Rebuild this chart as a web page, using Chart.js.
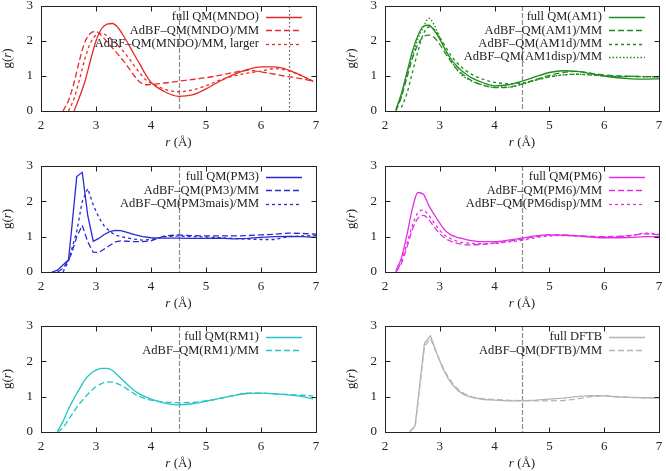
<!DOCTYPE html>
<html>
<head>
<meta charset="utf-8">
<script src="https://cdn.jsdelivr.net/npm/chart.js@4.4.0/dist/chart.umd.min.js"></script>
<style>
  html, body { margin: 0; padding: 0; background: #fff; }
  #page { position: relative; width: 666px; height: 471px; }
  .panel { position: absolute; }
</style>
</head>
<body>
<div id="page">
  <canvas id="cMNDO" class="panel" style="left:0;top:0" width="333" height="155"></canvas>
  <canvas id="cAM1" class="panel" style="left:333px;top:0" width="333" height="155"></canvas>
  <canvas id="cPM3" class="panel" style="left:0;top:155px" width="333" height="155"></canvas>
  <canvas id="cPM6" class="panel" style="left:333px;top:155px" width="333" height="155"></canvas>
  <canvas id="cRM1" class="panel" style="left:0;top:310px" width="333" height="161"></canvas>
  <canvas id="cDFTB" class="panel" style="left:333px;top:310px" width="333" height="161"></canvas>
</div>
<script>
// tick labels shared by all panels
const xTicks = [2, 3, 4, 5, 6, 7];
const yTicks = [0, 1, 2, 3];

// MNDO
const rMNDO = [2.4, 2.5, 2.6, 2.7, 2.8, 2.9, 3.0, 3.1, 3.2, 3.3, 3.4, 3.5, 3.6, 3.7, 3.8, 3.9, 4.0, 4.25, 4.5, 4.75, 5.0, 5.25, 5.5, 5.75, 6.0, 6.25, 6.5, 6.75, 6.95];
const gMNDOfull = [null, null, 0.0, 0.4, 0.85, 1.45, 2.0, 2.35, 2.48, 2.5, 2.38, 2.15, 1.88, 1.6, 1.33, 1.05, 0.82, 0.55, 0.42, 0.46, 0.63, 0.85, 1.04, 1.18, 1.26, 1.26, 1.17, 1.0, 0.84];
const gMNDOadbf = [0.0, 0.3, 0.8, 1.45, 1.98, 2.22, 2.27, 2.15, 1.98, 1.8, 1.62, 1.43, 1.22, 1.0, 0.82, 0.75, 0.76, 0.8, 0.85, 0.9, 0.95, 1.02, 1.1, 1.16, 1.12, 1.05, 0.98, 0.92, 0.85];
const gMNDOlarge = [null, 0.0, 0.35, 0.9, 1.5, 1.95, 2.17, 2.22, 2.15, 2.02, 1.87, 1.7, 1.5, 1.28, 1.08, 0.9, 0.8, 0.62, 0.55, 0.6, 0.72, 0.88, 1.0, 1.08, 1.14, 1.21, 1.15, 1.0, 0.85];
const labelsMNDO = ['full QM(MNDO)', 'AdBF\u2013QM(MNDO)/MM', 'AdBF\u2013QM(MNDO)/MM, larger'];

// AM1
const rAM1 = [2.1, 2.2, 2.3, 2.4, 2.5, 2.6, 2.7, 2.8, 2.9, 3.0, 3.1, 3.2, 3.3, 3.4, 3.5, 3.6, 3.8, 4.0, 4.25, 4.5, 4.75, 5.0, 5.25, 5.5, 5.75, 6.0, 6.25, 6.5, 6.75, 7.0];
const gAM1full = [null, 0.05, 0.5, 1.1, 1.7, 2.15, 2.42, 2.45, 2.3, 2.05, 1.75, 1.5, 1.3, 1.15, 1.03, 0.93, 0.8, 0.72, 0.75, 0.85, 0.98, 1.1, 1.15, 1.13, 1.07, 1.0, 0.95, 0.92, 0.91, 0.92];
const gAM1adbf = [null, 0.0, 0.4, 0.95, 1.5, 1.9, 2.12, 2.17, 2.1, 1.9, 1.65, 1.42, 1.22, 1.07, 0.95, 0.85, 0.73, 0.67, 0.68, 0.77, 0.9, 1.02, 1.1, 1.13, 1.08, 1.03, 1.0, 0.99, 0.98, 0.98];
const gAM1d = [null, null, 0.1, 0.5, 1.1, 1.7, 2.2, 2.4, 2.33, 2.1, 1.85, 1.6, 1.4, 1.25, 1.13, 1.03, 0.9, 0.82, 0.78, 0.8, 0.88, 0.97, 1.03, 1.05, 1.03, 1.0, 0.99, 0.99, 0.98, 0.98];
const gAM1disp = [null, 0.02, 0.45, 1.05, 1.6, 2.05, 2.4, 2.65, 2.45, 2.1, 1.75, 1.45, 1.2, 1.03, 0.92, 0.84, 0.74, 0.68, 0.68, 0.76, 0.88, 0.98, 1.03, 1.05, 1.03, 1.0, 0.99, 0.99, 0.98, 0.97];
const labelsAM1 = ['full QM(AM1)', 'AdBF\u2013QM(AM1)/MM', 'AdBF\u2013QM(AM1d)/MM', 'AdBF\u2013QM(AM1disp)/MM'];

// PM3
const rPM3 = [2.2, 2.3, 2.4, 2.5, 2.55, 2.65, 2.75, 2.85, 2.95, 3.05, 3.15, 3.25, 3.35, 3.45, 3.55, 3.7, 3.85, 4.0, 4.25, 4.5, 4.75, 5.0, 5.25, 5.5, 5.75, 6.0, 6.25, 6.5, 6.75, 7.0];
const gPM3full = [0.0, 0.05, 0.2, 0.35, 1.1, 2.7, 2.82, 1.6, 0.87, 0.95, 1.06, 1.14, 1.18, 1.17, 1.13, 1.06, 1.0, 0.97, 0.96, 0.96, 0.95, 0.95, 0.96, 0.94, 0.95, 0.98, 1.0, 1.01, 1.0, 0.98];
const gPM3adbf = [null, 0.0, 0.1, 0.35, 0.5, 1.0, 1.32, 0.85, 0.56, 0.55, 0.65, 0.75, 0.85, 0.88, 0.87, 0.86, 0.86, 0.88, 1.02, 1.05, 1.03, 1.02, 1.02, 1.02, 1.03, 1.05, 1.07, 1.1, 1.09, 1.07];
const gPM3mais = [null, null, 0.0, 0.3, 0.6, 1.15, 2.0, 2.36, 1.9, 1.55, 1.3, 1.15, 1.05, 1.0, 0.97, 0.93, 0.9, 0.92, 1.0, 1.02, 1.0, 0.99, 0.97, 0.95, 0.93, 0.92, 0.92, 1.0, 1.02, 1.03];
const labelsPM3 = ['full QM(PM3)', 'AdBF\u2013QM(PM3)/MM', 'AdBF\u2013QM(PM3mais)/MM'];

// PM6
const rPM6 = [2.2, 2.3, 2.4, 2.5, 2.6, 2.7, 2.8, 2.9, 3.0, 3.1, 3.2, 3.3, 3.4, 3.5, 3.75, 4.0, 4.25, 4.5, 4.75, 5.0, 5.25, 5.5, 5.75, 6.0, 6.25, 6.5, 6.75, 7.0];
const gPM6full = [0.05, 0.4, 1.05, 1.8, 2.25, 2.2, 1.88, 1.62, 1.38, 1.17, 1.05, 0.99, 0.95, 0.91, 0.86, 0.86, 0.9, 0.96, 1.02, 1.05, 1.04, 1.02, 0.99, 0.97, 0.97, 0.98, 1.0, 1.0];
const gPM6adbf = [0.0, 0.25, 0.7, 1.2, 1.52, 1.6, 1.48, 1.27, 1.08, 0.95, 0.87, 0.82, 0.79, 0.77, 0.78, 0.82, 0.87, 0.93, 1.0, 1.05, 1.05, 1.03, 1.01, 1.0, 1.01, 1.04, 1.08, 1.05];
const gPM6disp = [0.0, 0.3, 0.8, 1.32, 1.68, 1.75, 1.6, 1.38, 1.18, 1.03, 0.94, 0.88, 0.84, 0.82, 0.8, 0.81, 0.85, 0.9, 0.97, 1.02, 1.03, 1.02, 1.0, 0.99, 1.0, 1.03, 1.1, 1.07];
const labelsPM6 = ['full QM(PM6)', 'AdBF\u2013QM(PM6)/MM', 'AdBF\u2013QM(PM6disp)/MM'];

// RM1
const rRM1 = [2.3, 2.4, 2.5, 2.6, 2.7, 2.8, 2.9, 3.0, 3.1, 3.2, 3.3, 3.4, 3.5, 3.6, 3.7, 3.8, 4.0, 4.25, 4.5, 4.75, 5.0, 5.25, 5.5, 5.75, 6.0, 6.25, 6.5, 6.75, 6.95];
const gRM1full = [0.02, 0.3, 0.65, 0.95, 1.22, 1.48, 1.65, 1.75, 1.8, 1.8, 1.74, 1.6, 1.45, 1.3, 1.17, 1.07, 0.93, 0.82, 0.77, 0.8, 0.87, 0.95, 1.03, 1.09, 1.1, 1.08, 1.05, 1.0, 0.94];
const gRM1adbf = [0.0, 0.12, 0.35, 0.58, 0.8, 0.98, 1.15, 1.28, 1.37, 1.42, 1.41, 1.36, 1.28, 1.18, 1.08, 1.0, 0.9, 0.85, 0.83, 0.84, 0.88, 0.95, 1.03, 1.1, 1.1, 1.08, 1.06, 1.04, 1.02];
const labelsRM1 = ['full QM(RM1)', 'AdBF\u2013QM(RM1)/MM'];

// DFTB
const rDFTB = [2.45, 2.55, 2.72, 2.83, 2.95, 3.05, 3.15, 3.25, 3.35, 3.45, 3.6, 3.8, 4.0, 4.25, 4.5, 4.75, 5.0, 5.25, 5.5, 5.75, 6.0, 6.25, 6.5, 6.75, 7.0];
const gDFTBfull = [0.0, 0.18, 2.52, 2.72, 2.2, 1.82, 1.52, 1.3, 1.15, 1.05, 0.97, 0.92, 0.9, 0.88, 0.88, 0.9, 0.93, 0.96, 1.0, 1.03, 1.02, 0.99, 0.98, 0.97, 0.97];
const gDFTBadbf = [0.0, 0.15, 2.42, 2.65, 2.2, 1.85, 1.56, 1.34, 1.18, 1.08, 0.99, 0.94, 0.92, 0.9, 0.89, 0.88, 0.88, 0.89, 0.93, 1.0, 1.03, 1.0, 0.98, 0.97, 0.97];
const labelsDFTB = ['full DFTB', 'AdBF\u2013QM(DFTB)/MM'];

const dashes = [[], [6, 3], [3, 3], [1.5, 2]];
const serif = '"Liberation Serif", "DejaVu Serif", serif';

function toPoints(r, g) {
    return r.map((x, i) => ({ x: x, y: g[i] }));
}

// boxes, inward ticks, axis titles, reference lines and legend (gnuplot look)
const decor = {
    id: 'decor',
    beforeDatasetsDraw(chart, args, opts) {
        const { ctx, chartArea: a, scales: { x } } = chart;
        ctx.save();
        ctx.lineWidth = 1.2;
        opts.cutoffs.forEach(v => {
            const px = Math.round(x.getPixelForValue(v)) + 0.5;
            ctx.strokeStyle = '#8c8c8c';
            ctx.setLineDash([5, 2]);
            ctx.beginPath(); ctx.moveTo(px, a.top); ctx.lineTo(px, a.bottom); ctx.stroke();
        });
        opts.dotted.forEach(v => {
            const px = Math.round(x.getPixelForValue(v)) + 0.5;
            ctx.strokeStyle = '#555';
            ctx.setLineDash([1.5, 2.5]);
            ctx.beginPath(); ctx.moveTo(px, a.top); ctx.lineTo(px, a.bottom); ctx.stroke();
        });
        ctx.restore();
    },
    afterDraw(chart, args, opts) {
        const { ctx, chartArea: a, scales: { x, y } } = chart;
        ctx.save();
        ctx.strokeStyle = '#222';
        ctx.lineWidth = 1;
        ctx.setLineDash([]);
        const L = Math.round(a.left) + 0.5, R = Math.round(a.right) + 0.5;
        const T = Math.round(a.top) + 0.5, B = Math.round(a.bottom) + 0.5;
        ctx.strokeRect(L, T, R - L, B - T);
        ctx.beginPath();
        x.ticks.forEach(t => {
            const px = Math.round(x.getPixelForValue(t.value)) + 0.5;
            ctx.moveTo(px, B); ctx.lineTo(px, B - 5);
            ctx.moveTo(px, T); ctx.lineTo(px, T + 5);
        });
        y.ticks.forEach(t => {
            const py = Math.round(y.getPixelForValue(t.value)) + 0.5;
            ctx.moveTo(L, py); ctx.lineTo(L + 5, py);
            ctx.moveTo(R, py); ctx.lineTo(R - 5, py);
        });
        ctx.stroke();

        // axis titles with italic r
        ctx.fillStyle = '#222';
        ctx.textBaseline = 'middle';
        const up = '13px ' + serif, it = 'italic 13px ' + serif;
        const drawParts = (parts, cx, cy) => {
            let w = 0;
            parts.forEach(p => { ctx.font = p[1]; w += ctx.measureText(p[0]).width; });
            let px = cx - w / 2;
            ctx.textAlign = 'left';
            parts.forEach(p => { ctx.font = p[1]; ctx.fillText(p[0], px, cy); px += ctx.measureText(p[0]).width; });
        };
        drawParts([['r', it], [' (\u00c5)', up]], (a.left + a.right) / 2, a.bottom + 32);
        ctx.save();
        ctx.translate(a.left - 33, (a.top + a.bottom) / 2);
        ctx.rotate(-Math.PI / 2);
        drawParts([['g(', up], ['r', it], [')', up]], 0, 0);
        ctx.restore();

        // legend: text right-aligned, sample on the right
        ctx.font = '12.5px ' + serif;
        ctx.textAlign = 'right';
        chart.data.datasets.forEach((ds, i) => {
            const ly = a.top + 11 + i * 13.3;
            ctx.fillStyle = '#222';
            ctx.fillText(ds.label, a.right - 57, ly);
            ctx.strokeStyle = ds.borderColor;
            ctx.lineWidth = ds.borderWidth;
            ctx.setLineDash(ds.borderDash);
            ctx.beginPath();
            ctx.moveTo(a.right - 50, Math.round(ly) + 0.5);
            ctx.lineTo(a.right - 14, Math.round(ly) + 0.5);
            ctx.stroke();
        });
        ctx.restore();
    }
};

function makePanel(id, r, series, labels, color, area, cutoffs, dotted, smooth) {
    const canvas = document.getElementById(id);
    const W = canvas.width, H = canvas.height;
    return new Chart(canvas.getContext('2d'), {
        type: 'line',
        data: {
            datasets: series.map((g, i) => ({
                label: labels[i],
                data: toPoints(r, g),
                borderColor: color,
                borderWidth: 1.3,
                borderDash: dashes[i],
                pointRadius: 0,
                fill: false,
                tension: 0,
                cubicInterpolationMode: smooth ? 'monotone' : 'default'
            }))
        },
        options: {
            responsive: false,
            animation: false,
            events: [],
            layout: { padding: { left: 0, top: area[2], right: W - area[1], bottom: 0 } },
            plugins: {
                legend: { display: false },
                tooltip: { enabled: false },
                decor: { cutoffs: cutoffs, dotted: dotted }
            },
            scales: {
                x: {
                    type: 'linear',
                    min: 2, max: 7,
                    afterBuildTicks: s => { s.ticks = xTicks.map(v => ({ value: v })); },
                    afterFit: s => { s.height = H - area[3]; s.paddingLeft = 0; s.paddingRight = 0; },
                    grid: { display: false, drawTicks: false },
                    border: { display: false },
                    ticks: { padding: 7, color: '#222', font: { family: serif, size: 13 }, maxRotation: 0 }
                },
                y: {
                    min: 0, max: 3,
                    afterBuildTicks: s => { s.ticks = yTicks.map(v => ({ value: v })); },
                    afterFit: s => { s.width = area[0]; s.paddingTop = 0; s.paddingBottom = 0; },
                    grid: { display: false, drawTicks: false },
                    border: { display: false },
                    ticks: { padding: 8, color: '#222', font: { family: serif, size: 13 } }
                }
            }
        },
        plugins: [decor]
    });
}

makePanel('cMNDO', rMNDO, [gMNDOfull, gMNDOadbf, gMNDOlarge], labelsMNDO, '#e82a2a', [41, 316, 6, 111], [4.5], [6.5], true);
makePanel('cAM1', rAM1, [gAM1full, gAM1adbf, gAM1d, gAM1disp], labelsAM1, '#1f8a1f', [52, 326, 6, 111], [4.5], [], true);
makePanel('cPM3', rPM3, [gPM3full, gPM3adbf, gPM3mais], labelsPM3, '#2a2ad2', [41, 316, 11, 117], [4.5], [], false);
makePanel('cPM6', rPM6, [gPM6full, gPM6adbf, gPM6disp], labelsPM6, '#e22ee2', [52, 326, 11, 117], [4.5], [], true);
makePanel('cRM1', rRM1, [gRM1full, gRM1adbf], labelsRM1, '#26c4c4', [41, 316, 16, 122], [4.5], [], true);
makePanel('cDFTB', rDFTB, [gDFTBfull, gDFTBadbf], labelsDFTB, '#b4b4b4', [52, 326, 16, 122], [4.5], [], false);
</script>
</body>
</html>
